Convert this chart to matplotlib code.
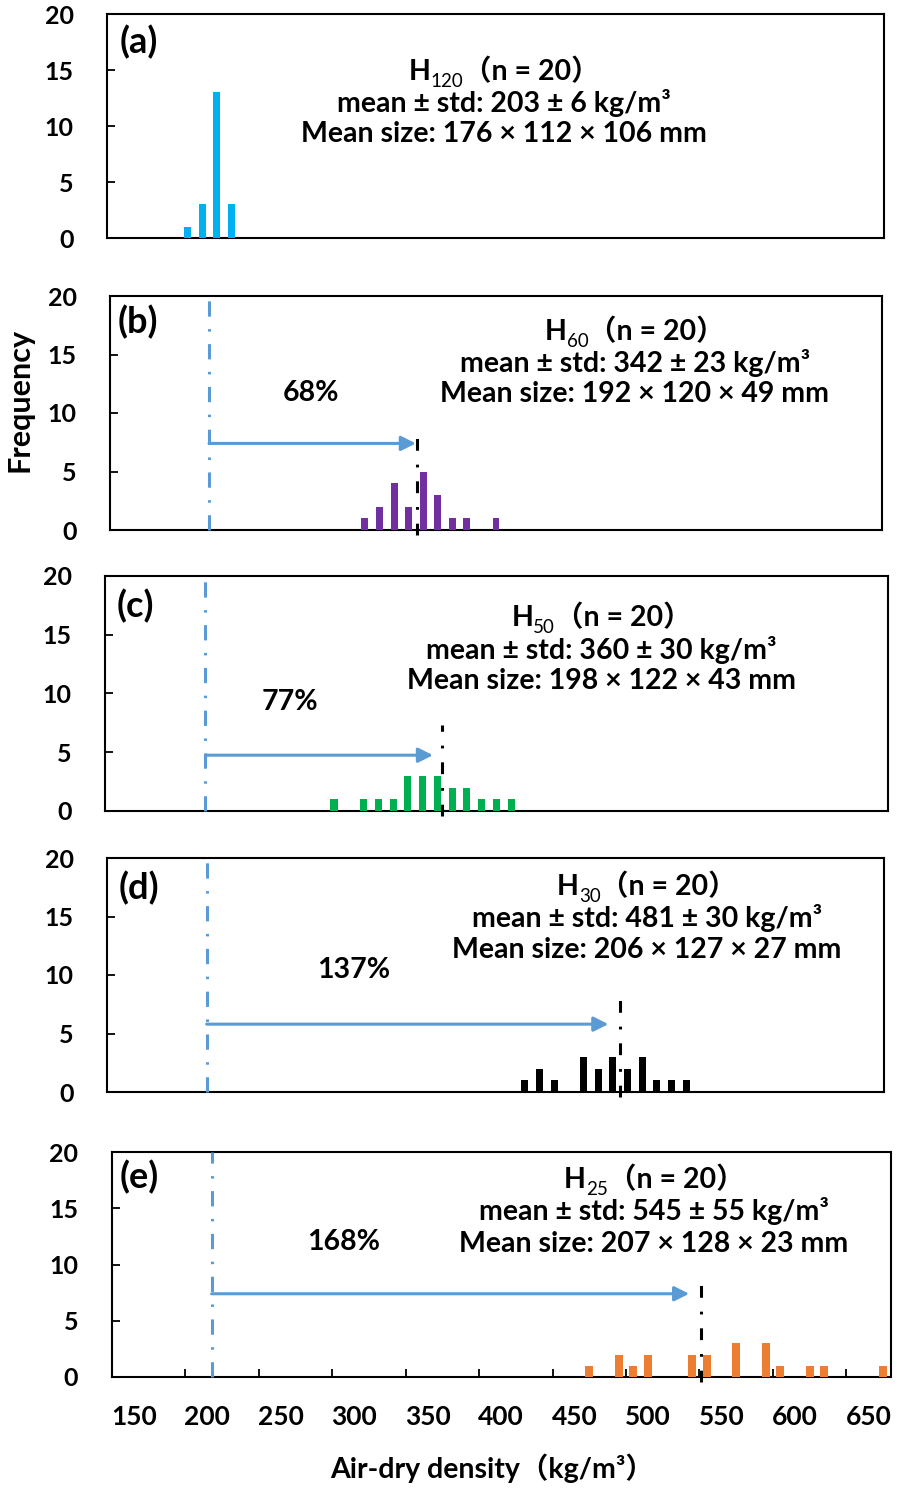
import matplotlib
matplotlib.use('Agg')
import matplotlib.pyplot as plt

plt.rcParams['lines.scale_dashes'] = False
FONT = ['Lato', 'Noto Sans CJK SC', 'DejaVu Sans']
plt.rcParams['font.family'] = FONT

# ---------------- data ----------------
panel_labels = ['(a)', '(b)', '(c)', '(d)', '(e)']
group_names = ['120', '60', '50', '30', '25']
sample_n = [20, 20, 20, 20, 20]
mean_values = [203, 342, 360, 481, 545]
std_values = [6, 23, 30, 30, 55]
size_length = [176, 192, 198, 206, 207]
size_width = [112, 120, 122, 127, 128]
size_thick = [106, 49, 43, 27, 23]

bins_a = [190, 200, 210, 220]
counts_a = [1, 3, 13, 3]
bins_b = [310, 320, 330, 340, 350, 360, 370, 380, 400]
counts_b = [1, 2, 4, 2, 5, 3, 1, 1, 1]
bins_c = [290, 310, 320, 330, 340, 350, 360, 370, 380, 390, 400, 410]
counts_c = [1, 1, 1, 1, 3, 3, 3, 2, 2, 1, 1, 1]
bins_d = [420, 430, 440, 460, 470, 480, 490, 500, 510, 520, 530]
counts_d = [1, 2, 1, 3, 2, 3, 2, 3, 1, 1, 1]
bins_e = [460, 480, 490, 500, 530, 540, 560, 580, 590, 610, 620, 660]
counts_e = [1, 2, 1, 2, 2, 2, 3, 3, 1, 1, 1, 1]
all_bins = [bins_a, bins_b, bins_c, bins_d, bins_e]
all_counts = [counts_a, counts_b, counts_c, counts_d, counts_e]
bar_colors = ['#00B0F0', '#7030A0', '#00B050', '#000000', '#ED7D31']
bar_widths = [4.8, 4.8, 4.8, 4.8, 5.4]

reference_x = 203                      # H120 mean (blue dash-dot line)
mean_line_x = [None, 346, 363, 485, 536]   # black dash-dot lines as drawn
mean_line_top = [None, 8.5, 7.3, 8.5, 9.2]
arrow_end_x = [None, 345, 357, 477, 528]
arrow_y = [None, 7.4, 4.75, 5.8, 7.4]
pct_labels = [None, '68%', '77%', '137%', '168%']
pct_x = [None, 273, 260, 303, 293]
pct_y = [None, 11.7, 9.3, 10.4, 12.0]

xtick_values = [150, 200, 250, 300, 350, 400, 450, 500, 550, 600, 650]
xminor_values = [185, 235, 285, 335, 385, 435, 485, 535, 585, 635]
ytick_values = [0, 5, 10, 15, 20]

# ---------------- layout ----------------
W, H = 899, 1494
DPI = 100
boxes_px = [(107, 884, 14, 238), (110, 882, 296, 530), (105, 888, 576, 811),
            (107, 884, 858, 1092), (111.7, 890.5, 1152, 1377)]
text_cx_px = [504, 635, 601.5, 647, 654]
text_cy_px = [(72, 102, 132), (332, 362, 392), (618, 649, 679),
              (887, 917, 948), (1180, 1210, 1242)]
label_cy_px = [42, 322, 606, 888, 1177]
label_x_px = [120, 118, 117, 119, 120]

fig = plt.figure(figsize=(W / DPI, H / DPI), dpi=DPI)
FS = 20.5
BLUE = '#5B9BD5'
axes = []
line1_parts = []
for i in range(5):
    l, r, t, b = boxes_px[i]
    ax = fig.add_axes([l / W, 1 - b / H, (r - l) / W, (b - t) / H])
    axes.append(ax)
    ax.bar(all_bins[i], all_counts[i], width=bar_widths[i], color=bar_colors[i], zorder=3)
    ax.set_xlim(135, 665)
    ax.set_ylim(0, 20)
    for s in ax.spines.values():
        s.set_linewidth(1.5)
    ax.set_yticks(ytick_values)
    ax.tick_params(axis='y', direction='in', length=6, width=1.3, pad=24,
                   labelsize=18)
    for lab in ax.get_yticklabels():
        lab.set_fontweight('bold')
    if i < 4:
        ax.set_xticks([])
    else:
        ax.set_xticks(xtick_values)
        ax.set_xticks(xminor_values, minor=True)
        ax.tick_params(axis='x', which='major', length=0, pad=20, labelsize=19)
        ax.tick_params(axis='x', which='minor', direction='in', length=6, width=1.3)
        for lab in ax.get_xticklabels():
            lab.set_fontweight('bold')

    hgt = b - t
    wid = r - l
    ax.text((label_x_px[i] - l) / wid, (b - label_cy_px[i]) / hgt, panel_labels[i],
            transform=ax.transAxes, fontsize=26, fontweight='bold', ha='left', va='center')

    cx = (text_cx_px[i] - l) / wid
    y1, y2, y3 = [(b - y) / hgt for y in text_cy_px[i]]
    ax.annotate('mean ± std: %d ± %d kg/m³' % (mean_values[i], std_values[i]),
                xy=(cx, y2), xycoords='axes fraction', xytext=(0, -7),
                textcoords='offset points', ha='center', va='baseline',
                fontsize=FS, fontweight='bold')
    ax.annotate('Mean size: %d × %d × %d mm' % (size_length[i], size_width[i], size_thick[i]),
                xy=(cx, y3), xycoords='axes fraction', xytext=(0, -7),
                textcoords='offset points', ha='center', va='baseline',
                fontsize=FS, fontweight='bold')
    parts = []
    for txt, fs, fw, dy in [('H', FS, 'bold', 0),
                            (group_names[i], FS * 0.66, 'normal', -5),
                            ('（n = %d）' % sample_n[i], FS, 'bold', 0)]:
        a = ax.annotate(txt, xy=(cx, y1), xycoords='axes fraction', xytext=(0, -6 + dy),
                        textcoords='offset points', ha='left', va='baseline',
                        fontsize=fs, fontweight=fw)
        parts.append(a)
    line1_parts.append(parts)

    if i > 0:
        ax.plot([reference_x, reference_x], [0, 20], color=BLUE, lw=2.2,
                dashes=[11, 9, 1.8, 9], zorder=4, clip_on=False)
        ax.plot([mean_line_x[i], mean_line_x[i]], [-0.4, mean_line_top[i]], color='black',
                lw=2.2, dashes=[8.5, 10, 2, 10], zorder=5, clip_on=False)
        ax.annotate('', xy=(arrow_end_x[i], arrow_y[i]), xytext=(reference_x, arrow_y[i]),
                    arrowprops=dict(arrowstyle='-|>', color=BLUE, lw=2.2,
                                    mutation_scale=22, shrinkA=0, shrinkB=0), zorder=6)
        ax.text(pct_x[i], pct_y[i], pct_labels[i], fontsize=FS, fontweight='bold',
                ha='center', va='center')

fig.text(20 / W, 1 - 400 / H, 'Frequency', rotation=90, fontsize=22, fontweight='bold',
         ha='center', va='center')
fig.text(492 / W, 1 - 1468 / H, 'Air-dry density（kg/m³）', fontsize=20.5, fontweight='bold',
         ha='center', va='center')

# lay out the first (mixed-size) line of each annotation block
fig.canvas.draw()
rend = fig.canvas.get_renderer()
for parts in line1_parts:
    widths = [p.get_window_extent(rend).width * 72 / DPI for p in parts]
    total = sum(widths)
    x = -total / 2
    for p, w in zip(parts, widths):
        dx, dy = p.xyann
        p.xyann = (x, dy)
        x += w

fig.savefig('out.png', dpi=DPI)
